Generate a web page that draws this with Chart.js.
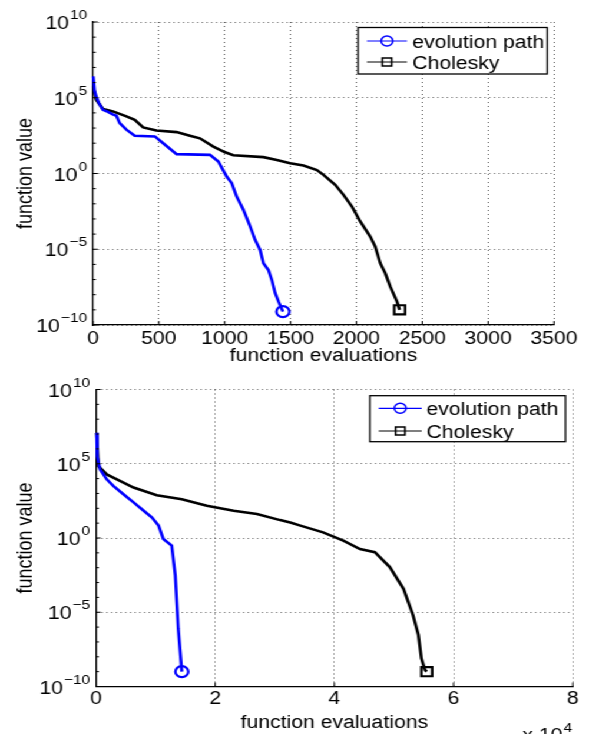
<!DOCTYPE html>
<html>
<head>
<meta charset="utf-8">
<script src="https://cdn.jsdelivr.net/npm/chart.js@4.4.0/dist/chart.umd.min.js"></script>
<style>
  html, body { margin: 0; padding: 0; background: #fff; overflow: hidden; }
  /* the original figure is stretched sideways, so the charts are drawn narrower and scaled */
  #wrap { position: absolute; left: 0; top: 0; width: 500px; height: 734px; transform: scaleX(1.178); transform-origin: 0 0; }
  .box { position: absolute; left: 0; width: 500px; height: 367px; }
</style>
</head>
<body>
<div id="wrap">
  <div class="box" style="top:0"><canvas id="topChart" width="500" height="367"></canvas></div>
  <div class="box" style="top:367px"><canvas id="bottomChart" width="500" height="367"></canvas></div>
</div>
<script>
// ---- data ----
var seriesLabels = ["evolution path", "Cholesky"];
var yTicks = [1e-10, 1e-5, 1, 1e5, 1e10];

// upper panel
var topXTicks = [0, 500, 1000, 1500, 2000, 2500, 3000, 3500];
var topEvoX = [2, 12, 25, 45, 76, 110, 150, 178, 203, 254, 317, 470, 533, 635, 888, 952, 1015, 1053, 1091, 1142, 1193, 1231, 1269, 1294, 1332, 1358, 1383, 1409, 1442];
var topEvoY = [2.6e6, 3e5, 1.2e5, 4.5e4, 1.6e4, 1.2e4, 8e3, 6.5e3, 2.1e3, 7.8e2, 3.1e2, 2.8e2, 1.0e2, 19, 17, 6.2, 0.63, 0.23, 0.03, 4.0e-3, 3.2e-4, 4.2e-5, 9.1e-6, 1.2e-6, 4.3e-7, 9.3e-8, 1.3e-8, 3.5e-9, 7.6e-10];
var topCholX = [2, 25, 76, 152, 254, 317, 381, 482, 635, 736, 812, 914, 1003, 1066, 1294, 1396, 1497, 1598, 1700, 1750, 1839, 1902, 1966, 2029, 2105, 2143, 2181, 2219, 2257, 2308, 2328];
var topCholY = [5.6e5, 7.4e4, 1.8e4, 1.26e4, 5.9e3, 3.5e3, 1.1e3, 6.9e2, 5.4e2, 3.1e2, 2.1e2, 60, 25, 16, 12, 7.9, 4.8, 3.4, 1.7, 0.81, 0.18, 0.039, 6.6e-3, 6.8e-4, 6.9e-5, 1.5e-5, 1.2e-6, 2.6e-7, 3.4e-8, 3.5e-9, 1.0e-9];

// lower panel (x in function evaluations, axis shown in units of 10^4)
var bottomXTicks = [0, 20000, 40000, 60000, 80000];
var bottomEvoX = [110, 200, 670, 1800, 2900, 4600, 6300, 8000, 9400, 10500, 11300, 12700, 13300, 13800, 14400];
var bottomEvoY = [1.2e7, 3.2e5, 4.2e4, 8.9e3, 3.2e3, 8.9e2, 2.5e2, 68, 24, 6.8, 0.85, 0.31, 3.0e-3, 8.1e-7, 1.0e-9];
var bottomCholX = [110, 400, 1800, 3500, 6300, 10200, 14400, 18600, 23100, 27000, 30900, 32600, 34300, 38100, 41500, 44300, 46800, 49300, 51600, 53200, 54100, 54600, 55200, 55500];
var bottomCholY = [1.2e7, 6.9e4, 1.9e4, 8.9e3, 2.5e3, 7.6e2, 4.1e2, 1.5e2, 68, 41, 16, 11, 6.8, 2.4, 0.66, 0.18, 0.11, 0.011, 3.8e-4, 6.3e-6, 2.9e-7, 7.9e-9, 1.3e-9, 1.0e-9];

var FONT = '"Liberation Sans", Arial, Helvetica, sans-serif';

function toPoints(xs, ys) {
  var pts = [];
  for (var i = 0; i < xs.length; i++) pts.push({x: xs[i], y: ys[i]});
  return pts;
}

function lastOnly(r) {
  return function(ctx) { return ctx.dataIndex === ctx.dataset.data.length - 1 ? r : 0; };
}

function drawPow(ctx, xRight, y, exp) {
  var sup = String(exp).replace("-", "\u2212");
  ctx.font = "18px " + FONT;
  var bw = ctx.measureText("10").width;
  ctx.font = "13px " + FONT;
  var sw = ctx.measureText(sup).width;
  var x0 = xRight - bw - sw - 1;
  ctx.textAlign = "left";
  ctx.textBaseline = "alphabetic";
  ctx.font = "18px " + FONT;
  ctx.fillText("10", x0, y + 7);
  ctx.font = "13px " + FONT;
  ctx.fillText(sup, x0 + bw + 1, y - 3);
}

// axis decorations and legend, drawn like the matlab figure
var matlabBits = {
  id: "matlabBits",
  afterDraw: function(chart) {
    var ctx = chart.ctx, area = chart.chartArea;
    var xs = chart.scales.x, ys = chart.scales.y;
    var o = chart.options.plugins.matlabBits;
    ctx.save();
    ctx.strokeStyle = "#000";
    ctx.fillStyle = "#000";
    ctx.lineWidth = 1;
    // inward ticks
    ctx.beginPath();
    xs.ticks.forEach(function(t) {
      var px = xs.getPixelForValue(t.value);
      ctx.moveTo(px, area.bottom); ctx.lineTo(px, area.bottom - 4);
    });
    for (var k = -10; k <= 10; k++) {
      var py = ys.getPixelForValue(Math.pow(10, k));
      ctx.moveTo(area.left, py); ctx.lineTo(area.left + (k % 5 === 0 ? 4 : 2.5), py);
    }
    ctx.stroke();
    // y tick labels with superscript exponents
    yTicks.forEach(function(v) {
      drawPow(ctx, area.left - 5, ys.getPixelForValue(v), Math.round(Math.log10(v)));
    });
    // x10^4 multiplier
    if (o.multiplier) {
      ctx.textAlign = "left";
      ctx.textBaseline = "alphabetic";
      ctx.font = "18px " + FONT;
      ctx.fillText("x 10", o.multiplier.x, o.multiplier.y);
      var w = ctx.measureText("x 10").width;
      ctx.font = "13px " + FONT;
      ctx.fillText(o.multiplier.exp, o.multiplier.x + w + 1, o.multiplier.y - 9);
    }
    // legend box
    var L = o.legend;
    ctx.fillStyle = "#fff";
    ctx.fillRect(L.x1, L.y1, L.x2 - L.x1, L.y2 - L.y1);
    ctx.lineWidth = 1.3;
    ctx.strokeStyle = "#000";
    ctx.strokeRect(L.x1, L.y1, L.x2 - L.x1, L.y2 - L.y1);
    chart.data.datasets.forEach(function(ds, i) {
      var ry = L.rows[i];
      ctx.strokeStyle = ds.borderColor;
      ctx.lineWidth = 1.2;
      ctx.beginPath();
      ctx.moveTo(L.s1, ry); ctx.lineTo(L.s2, ry);
      ctx.stroke();
      var mx = (L.s1 + L.s2) / 2;
      ctx.lineWidth = 1.5;
      ctx.beginPath();
      if (ds.pointStyle === "circle") ctx.arc(mx, ry, 5, 0, Math.PI * 2);
      else ctx.rect(mx - 4, ry - 4, 8, 8);
      ctx.stroke();
      ctx.fillStyle = "#000";
      ctx.font = "18px " + FONT;
      ctx.textAlign = "left";
      ctx.textBaseline = "alphabetic";
      ctx.fillText(ds.label, L.tx, ry + 6.5);
    });
    ctx.restore();
  }
};

function makeChart(id, p) {
  return new Chart(document.getElementById(id), {
    type: "line",
    data: {
      datasets: [{
        label: seriesLabels[0],
        data: toPoints(p.evoX, p.evoY),
        borderColor: "#0000ff",
        borderWidth: 2.6,
        pointStyle: "circle",
        pointRadius: lastOnly(5.5),
        pointBorderWidth: 2.2,
        pointBorderColor: "#0000ff",
        pointBackgroundColor: "rgba(0,0,0,0)",
        tension: 0
      }, {
        label: seriesLabels[1],
        data: toPoints(p.cholX, p.cholY),
        borderColor: "#000000",
        borderWidth: 2.6,
        pointStyle: "rect",
        pointRadius: lastOnly(6.5),
        pointBorderWidth: 2.2,
        pointBorderColor: "#000000",
        pointBackgroundColor: "rgba(0,0,0,0)",
        tension: 0
      }]
    },
    options: {
      responsive: false,
      animation: false,
      devicePixelRatio: 1,
      clip: false,
      layout: { padding: { top: p.top, right: p.right, left: 0, bottom: 0 } },
      plugins: {
        legend: { display: false },
        tooltip: { enabled: false },
        matlabBits: { legend: p.legend, multiplier: p.multiplier }
      },
      scales: {
        x: {
          type: "linear",
          min: p.xMin, max: p.xMax,
          afterBuildTicks: function(s) { s.ticks = p.xTicks.map(function(v) { return {value: v}; }); },
          afterFit: function(s) { s.height = p.xHeight; },
          ticks: {
            color: "#000",
            font: { family: FONT, size: 18 },
            padding: p.xPad,
            maxRotation: 0,
            callback: p.xLabel
          },
          grid: { color: "rgba(0,0,0,0.65)", lineWidth: 1, drawTicks: false },
          border: { display: true, color: "#000", width: 1.3, dash: [1, 3] },
          title: { display: true, text: "function evaluations", color: "#000", font: { family: FONT, size: 18 }, padding: { top: p.xTitlePad, bottom: 0 } }
        },
        y: {
          type: "logarithmic",
          min: 1e-10, max: 1e10,
          afterBuildTicks: function(s) { s.ticks = yTicks.map(function(v) { return {value: v}; }); },
          afterFit: function(s) { s.width = p.yWidth; },
          ticks: { display: false },
          grid: { color: "rgba(0,0,0,0.65)", lineWidth: 1, drawTicks: false },
          border: { display: true, color: "#000", width: 1.3, dash: [1, 3] },
          title: { display: true, text: "function value", color: "#000", font: { family: FONT, size: 18 }, padding: { top: 11, bottom: 0 } }
        }
      }
    },
    plugins: [matlabBits]
  });
}

makeChart("topChart", {
  evoX: topEvoX, evoY: topEvoY, cholX: topCholX, cholY: topCholY,
  xTicks: topXTicks, xMin: 0, xMax: 3500,
  xLabel: function(v) { return String(v); },
  top: 22, right: 29.7, yWidth: 78.9, xHeight: 42, xPad: 3, xTitlePad: 1,
  legend: { x1: 304, y1: 27.5, x2: 464.5, y2: 74, rows: [41, 62], s1: 311.5, s2: 345.5, tx: 350 }
});

makeChart("bottomChart", {
  evoX: bottomEvoX, evoY: bottomEvoY, cholX: bottomCholX, cholY: bottomCholY,
  xTicks: bottomXTicks, xMin: 0, xMax: 80000,
  xLabel: function(v) { return String(v / 10000); },
  top: 22.5, right: 13.8, yWidth: 81.5, xHeight: 47.5, xPad: 2, xTitlePad: 6,
  legend: { x1: 314, y1: 28.7, x2: 480, y2: 74.7, rows: [41.3, 64], s1: 321.5, s2: 358, tx: 362 },
  multiplier: { x: 443.5, y: 374, exp: "4" }
});
</script>
</body>
</html>
